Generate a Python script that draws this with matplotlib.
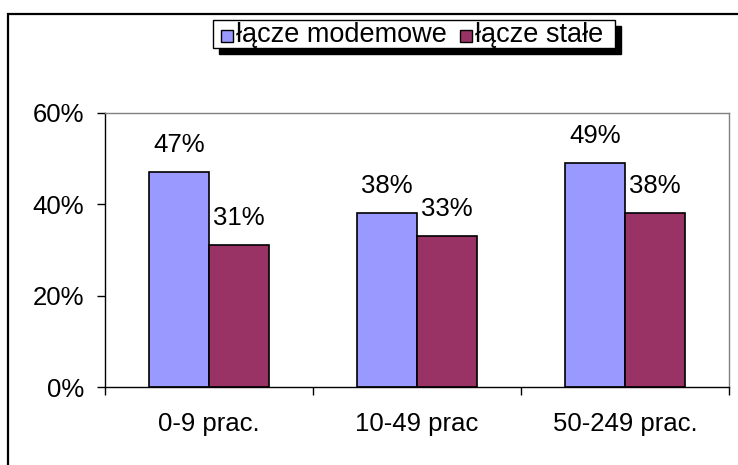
import matplotlib
matplotlib.use("Agg")
import matplotlib.pyplot as plt
from matplotlib.patches import Rectangle
from matplotlib.ticker import FixedLocator, PercentFormatter
import numpy as np

plt.rcParams['font.family'] = ['Liberation Sans', 'DejaVu Sans']

categories = ["0-9 prac.", "10-49 prac", "50-249 prac."]
series_names = ["łącze modemowe", "łącze stałe"]
modem = [47, 38, 49]
stale = [31, 33, 38]
colors = ["#9999FF", "#993366"]

W, H = 738, 465
FS = 18.5
LFS = 19.5
fig = plt.figure(figsize=(W / 100, H / 100), dpi=100)

def fx(px):
    return px / W

def fy(py_top):
    return (H - py_top) / H

# outer frame
fig.patches.append(Rectangle((fx(8), -0.1), 1.2, fy(14) + 0.1, transform=fig.transFigure,
                             fill=False, edgecolor="black", linewidth=1.6, zorder=0))

ax = fig.add_axes([fx(105), fy(387), fx(729 - 105), (387 - 113) / H])
x = np.arange(len(categories))
bw = 0.288
b1 = ax.bar(x - bw / 2, modem, bw, color=colors[0], edgecolor="black", linewidth=1.2, label=series_names[0])
b2 = ax.bar(x + bw / 2, stale, bw, color=colors[1], edgecolor="black", linewidth=1.2, label=series_names[1])

for bars, vals in ((b1, modem), (b2, stale)):
    for r, v in zip(bars, vals):
        ax.annotate(f"{v}%", (r.get_x() + r.get_width() / 2, v), xytext=(0, 20),
                    textcoords="offset pixels", ha="center", va="baseline", fontsize=FS)

ax.set_xlim(-0.5, 2.5)
ax.set_ylim(0, 60)
ax.yaxis.set_major_locator(FixedLocator([0, 20, 40, 60]))
ax.yaxis.set_major_formatter(PercentFormatter(decimals=0))
ax.set_xticks(x)
ax.set_xticklabels(categories)
ax.tick_params(axis="x", which="major", length=0, pad=18, labelsize=FS)
ax.xaxis.set_minor_locator(FixedLocator([-0.5, 0.5, 1.5, 2.5]))
ax.tick_params(axis="x", which="minor", length=5.8, width=1, color="black", direction="out")
ax.tick_params(axis="y", length=5.8, width=1, color="black", pad=9, labelsize=FS)
for s in ("left", "bottom"):
    ax.spines[s].set_color("black")
    ax.spines[s].set_linewidth(1.0)
for s in ("top", "right"):
    ax.spines[s].set_color("#808080")
    ax.spines[s].set_linewidth(1.0)

# legend drawn by hand (box with black drop shadow)
renderer = fig.canvas.get_renderer()
box_l, box_t, box_b = 213, 20, 48
yc = 35
hs = 12
cur = box_l + 8
for name, col in zip(series_names, colors):
    fig.patches.append(Rectangle((fx(cur), fy(yc + hs / 2 + 1)), fx(hs), hs / H, transform=fig.transFigure,
                                 facecolor=col, edgecolor="black", linewidth=1.0, zorder=6))
    cur += hs + 3
    t = fig.text(fx(cur), fy(yc), name, fontsize=LFS, ha="left", va="center", zorder=7)
    ext = t.get_window_extent(renderer)
    cur += ext.width + 13
box_r = cur - 13 + 12
fig.patches.append(Rectangle((fx(box_l + 6), fy(box_b + 6)), fx(box_r - box_l), (box_b - box_t) / H,
                             transform=fig.transFigure, facecolor="black", edgecolor="black", zorder=4))
fig.patches.append(Rectangle((fx(box_l), fy(box_b)), fx(box_r - box_l), (box_b - box_t) / H,
                             transform=fig.transFigure, facecolor="white", edgecolor="black",
                             linewidth=1.0, zorder=5))

fig.savefig("out.png", dpi=100)
